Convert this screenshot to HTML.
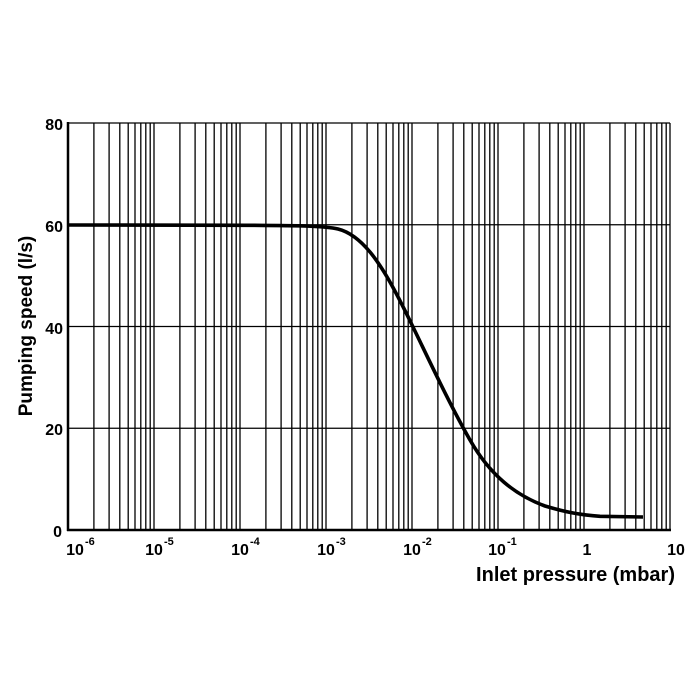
<!DOCTYPE html>
<html><head><meta charset="utf-8"><style>
html,body{margin:0;padding:0;background:#fff;}
svg{display:block;}
text{font-family:"Liberation Sans",Arial,sans-serif;font-weight:bold;fill:#000;}
</style></head><body>
<svg width="700" height="700" viewBox="0 0 700 700" xmlns="http://www.w3.org/2000/svg">
<g stroke="#000" stroke-width="1.2">
<line x1="68" y1="123" x2="670" y2="123"/>
<line x1="68" y1="224.75" x2="670" y2="224.75"/>
<line x1="68" y1="326.5" x2="670" y2="326.5"/>
<line x1="68" y1="428.25" x2="670" y2="428.25"/>
</g>
<g stroke="#000" stroke-width="1.3">
<path d="
M93.9,123V530 M109.1,123V530 M119.8,123V530 M128.2,123V530 M135.0,123V530 M140.8,123V530 M145.8,123V530 M150.2,123V530 M154,123V530
M179.9,123V530 M195.1,123V530 M205.8,123V530 M214.2,123V530 M221.0,123V530 M226.8,123V530 M231.8,123V530 M236.2,123V530 M240,123V530
M265.9,123V530 M281.1,123V530 M291.8,123V530 M300.2,123V530 M307.0,123V530 M312.8,123V530 M317.8,123V530 M322.2,123V530 M326,123V530
M351.9,123V530 M367.1,123V530 M377.8,123V530 M386.2,123V530 M393.0,123V530 M398.8,123V530 M403.8,123V530 M408.2,123V530 M412,123V530
M437.9,123V530 M453.1,123V530 M463.8,123V530 M472.2,123V530 M479.0,123V530 M484.8,123V530 M489.8,123V530 M494.2,123V530 M498,123V530
M523.9,123V530 M539.1,123V530 M549.8,123V530 M558.2,123V530 M565.0,123V530 M570.8,123V530 M575.8,123V530 M580.2,123V530 M584,123V530
M609.9,123V530 M625.1,123V530 M635.8,123V530 M644.2,123V530 M651.0,123V530 M656.8,123V530 M661.8,123V530 M666.2,123V530 M670,123V530"/>
</g>
<line x1="68" y1="122" x2="68" y2="531" stroke="#000" stroke-width="2.5"/>
<line x1="67" y1="530" x2="671" y2="530" stroke="#000" stroke-width="2.5"/>
<path fill="none" stroke="#000" stroke-width="3.6" stroke-linejoin="round"
d="M68,225 L250,225.3 C300,225.6 325,226 338,229 C350,232 360,240 370,252 C385,270 400,300 413,327 C430,362 450,405 470,440 C490,475 515,495 545,506 C565,512 580,515 600,516.3 L643,517"/>
<g font-size="16" text-anchor="end">
<text x="63" y="130">80</text>
<text x="63" y="232">60</text>
<text x="63" y="334">40</text>
<text x="63" y="435">20</text>
<text x="62" y="537">0</text>
</g>
<g font-size="16">
<text x="75" y="555" text-anchor="middle">10</text><text x="85" y="545" font-size="11">-6</text>
<text x="154" y="555" text-anchor="middle">10</text><text x="164" y="545" font-size="11">-5</text>
<text x="240" y="555" text-anchor="middle">10</text><text x="250" y="545" font-size="11">-4</text>
<text x="326" y="555" text-anchor="middle">10</text><text x="336" y="545" font-size="11">-3</text>
<text x="412" y="555" text-anchor="middle">10</text><text x="422" y="545" font-size="11">-2</text>
<text x="497" y="555" text-anchor="middle">10</text><text x="507" y="545" font-size="11">-1</text>
<text x="587" y="555" text-anchor="middle">1</text>
<text x="676" y="555" text-anchor="middle">10</text>
</g>
<text x="675" y="581" font-size="20" text-anchor="end">Inlet pressure (mbar)</text>
<text transform="translate(32,326) rotate(-90)" font-size="19" text-anchor="middle">Pumping speed (l/s)</text>
</svg>
</body></html>
